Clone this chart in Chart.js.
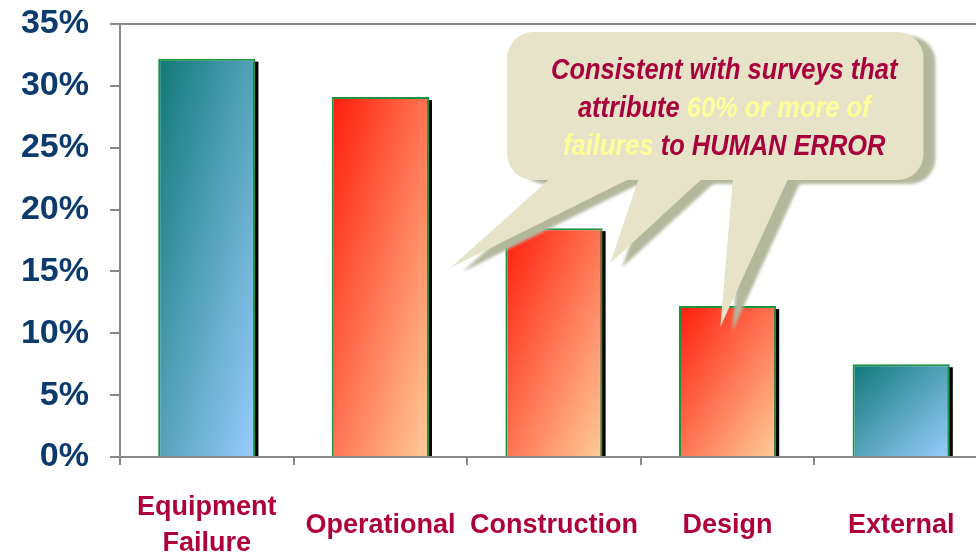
<!DOCTYPE html>
<html>
<head>
<meta charset="utf-8">
<script src="https://cdn.jsdelivr.net/npm/chart.js@4"></script>
<style>
  html, body { margin: 0; padding: 0; background: #fff; overflow: hidden; }
  #wrap { width: 988px; height: 554px; }
</style>
</head>
<body>
<div id="wrap"><canvas id="myChart"></canvas></div>
<script>
(() => {
    "use strict";

    // data
    const categories = [["Equipment", "Failure"], "Operational", "Construction", "Design", "External"];
    const shares = [32.2, 29.1, 18.5, 12.2, 7.5];
    const humanCaused = [false, true, true, true, false];
    const yMax = 35;
    const yStep = 5;
    const calloutLines = [
        [["Consistent with surveys that", false]],
        [["attribute ", false], ["60% or more of", true]],
        [["failures", true], [" to HUMAN ERROR", false]],
    ];

    const sans = "'Liberation Sans', Arial, sans-serif";
    const BAR_PCT = 0.56;

    // diagonal gradient: top-left -> bottom-right corner of the bar box
    function barFill(context) {
        const chart = context.chart;
        const i = context.dataIndex;
        const xs = chart.scales.x;
        const ys = chart.scales.y;
        if (!chart.chartArea || i === undefined || !xs || !ys) return "#888";
        const cw = (xs.right - xs.left) / categories.length;
        const w = cw * BAR_PCT;
        const x0 = xs.getPixelForValue(i) - w / 2;
        const y0 = ys.getPixelForValue(shares[i]);
        const h = Math.max(ys.getPixelForValue(0) - y0, 1);
        const gx = 1 / (2 * w), gy = 1 / (2 * h);
        const g2 = gx * gx + gy * gy;
        const grad = chart.ctx.createLinearGradient(x0, y0, x0 + gx / g2, y0 + gy / g2);
        if (humanCaused[i]) {
            grad.addColorStop(0, "#ff1c0c");
            grad.addColorStop(1, "#ffcc99");
        } else {
            grad.addColorStop(0, "#107876");
            grad.addColorStop(1, "#99ccff");
        }
        return grad;
    }

    const barShadow = {
        id: "barShadow",
        beforeDatasetsDraw(chart) {
            const ctx = chart.ctx;
            ctx.save();
            ctx.fillStyle = "#000";
            chart.getDatasetMeta(0).data.forEach((bar) => {
                const p = bar.getProps(["x", "y", "base", "width"], true);
                ctx.fillRect(p.x - p.width / 2 + 3, p.y + 3, p.width, p.base - p.y - 3);
            });
            ctx.restore();
        },
    };

    // speech bubble, anchored in scale units (category index, percent)
    const bubble = { x0: 1.73, x1: 4.128, y0: 34.36, y1: 22.39 };
    const tails = [
        [2.007, 2.49, 1.402, 15.28],
        [2.497, 2.883, 2.325, 15.68],
        [3.033, 3.361, 2.958, 10.51],
    ];

    const callout = {
        id: "callout",
        afterDraw(chart) {
            const ctx = chart.ctx;
            const xs = chart.scales.x;
            const ys = chart.scales.y;
            const bx0 = xs.getPixelForValue(bubble.x0);
            const bx1 = xs.getPixelForValue(bubble.x1);
            const by0 = ys.getPixelForValue(bubble.y0);
            const by1 = ys.getPixelForValue(bubble.y1);

            const shape = (dx, dy) => {
                ctx.beginPath();
                ctx.roundRect(bx0 + dx, by0 + dy, bx1 - bx0, by1 - by0, 26);
                ctx.fill();
                tails.forEach(([a, b, tx, ty]) => {
                    ctx.beginPath();
                    ctx.moveTo(xs.getPixelForValue(a) + dx, by1 - 6 + dy);
                    ctx.lineTo(xs.getPixelForValue(tx) + dx, ys.getPixelForValue(ty) + dy);
                    ctx.lineTo(xs.getPixelForValue(b) + dx, by1 - 6 + dy);
                    ctx.closePath();
                    ctx.fill();
                });
            };

            ctx.save();
            ctx.filter = "blur(1.5px)";
            ctx.fillStyle = "#b3b89d";
            shape(12, 4);
            ctx.filter = "none";
            ctx.fillStyle = "#e6e3c8";
            shape(0, 0);

            // condensed look: squeeze the text horizontally
            ctx.font = "italic bold 29px " + sans;
            ctx.textBaseline = "alphabetic";
            const sx = (0.832 * (bx1 - bx0)) / ctx.measureText(calloutLines[0][0][0]).width;
            const cx = (bx0 + bx1) / 2 + 9;
            calloutLines.forEach((parts, li) => {
                const total = parts.reduce((s, p) => s + ctx.measureText(p[0]).width, 0);
                let x = -total / 2;
                ctx.save();
                ctx.translate(cx, by0 + 47 + li * 38);
                ctx.scale(sx, 1);
                parts.forEach(([txt, hi]) => {
                    ctx.fillStyle = hi ? "#ffff99" : "#a8003c";
                    ctx.fillText(txt, x, 0);
                    x += ctx.measureText(txt).width;
                });
                ctx.restore();
            });
            ctx.restore();
        },
    };

    const canvas = document.getElementById("myChart");
    // @ts-ignore
    new Chart(canvas, {
        type: "bar",
        data: {
            labels: categories,
            datasets: [{
                data: shares,
                backgroundColor: barFill,
                borderColor: "#1a9440",
                borderWidth: 2,
                barPercentage: BAR_PCT,
                categoryPercentage: 1,
            }],
        },
        options: {
            responsive: true,
            maintainAspectRatio: false,
            animation: false,
            layout: { padding: { top: 24, left: 0, right: 0, bottom: 0 } },
            plugins: {
                legend: { display: false },
                tooltip: { enabled: false },
            },
            scales: {
                x: {
                    grid: { drawOnChartArea: false, tickLength: 8, tickColor: "#888", lineWidth: 2, offset: true },
                    border: { color: "#888", width: 2 },
                    ticks: {
                        color: "#b0003c",
                        font: { family: sans, size: 27, weight: "bold", lineHeight: 1.33 },
                        padding: 43,
                        maxRotation: 0,
                        autoSkip: false,
                        crossAlign: "center",
                    },
                    afterFit: (s) => {
                        s.height = 97;
                        s.paddingLeft = 0;
                        s.paddingRight = 0;
                    },
                },
                y: {
                    min: 0,
                    max: yMax,
                    ticks: {
                        stepSize: yStep,
                        callback: (v) => v + "%",
                        color: "#0b3a6c",
                        font: { family: sans, size: 34, weight: "bold" },
                        padding: 21,
                    },
                    grid: {
                        color: (c) => (c.tick && c.tick.value === yMax ? "#888" : "rgba(0,0,0,0)"),
                        tickColor: "#888",
                        lineWidth: 2,
                        tickLength: 10,
                    },
                    border: { color: "#888", width: 2 },
                    afterFit: (s) => {
                        s.width = 120;
                        s.paddingTop = 0;
                        s.paddingBottom = 0;
                    },
                },
            },
        },
        plugins: [barShadow, callout],
    });
})();
</script>
</body>
</html>
